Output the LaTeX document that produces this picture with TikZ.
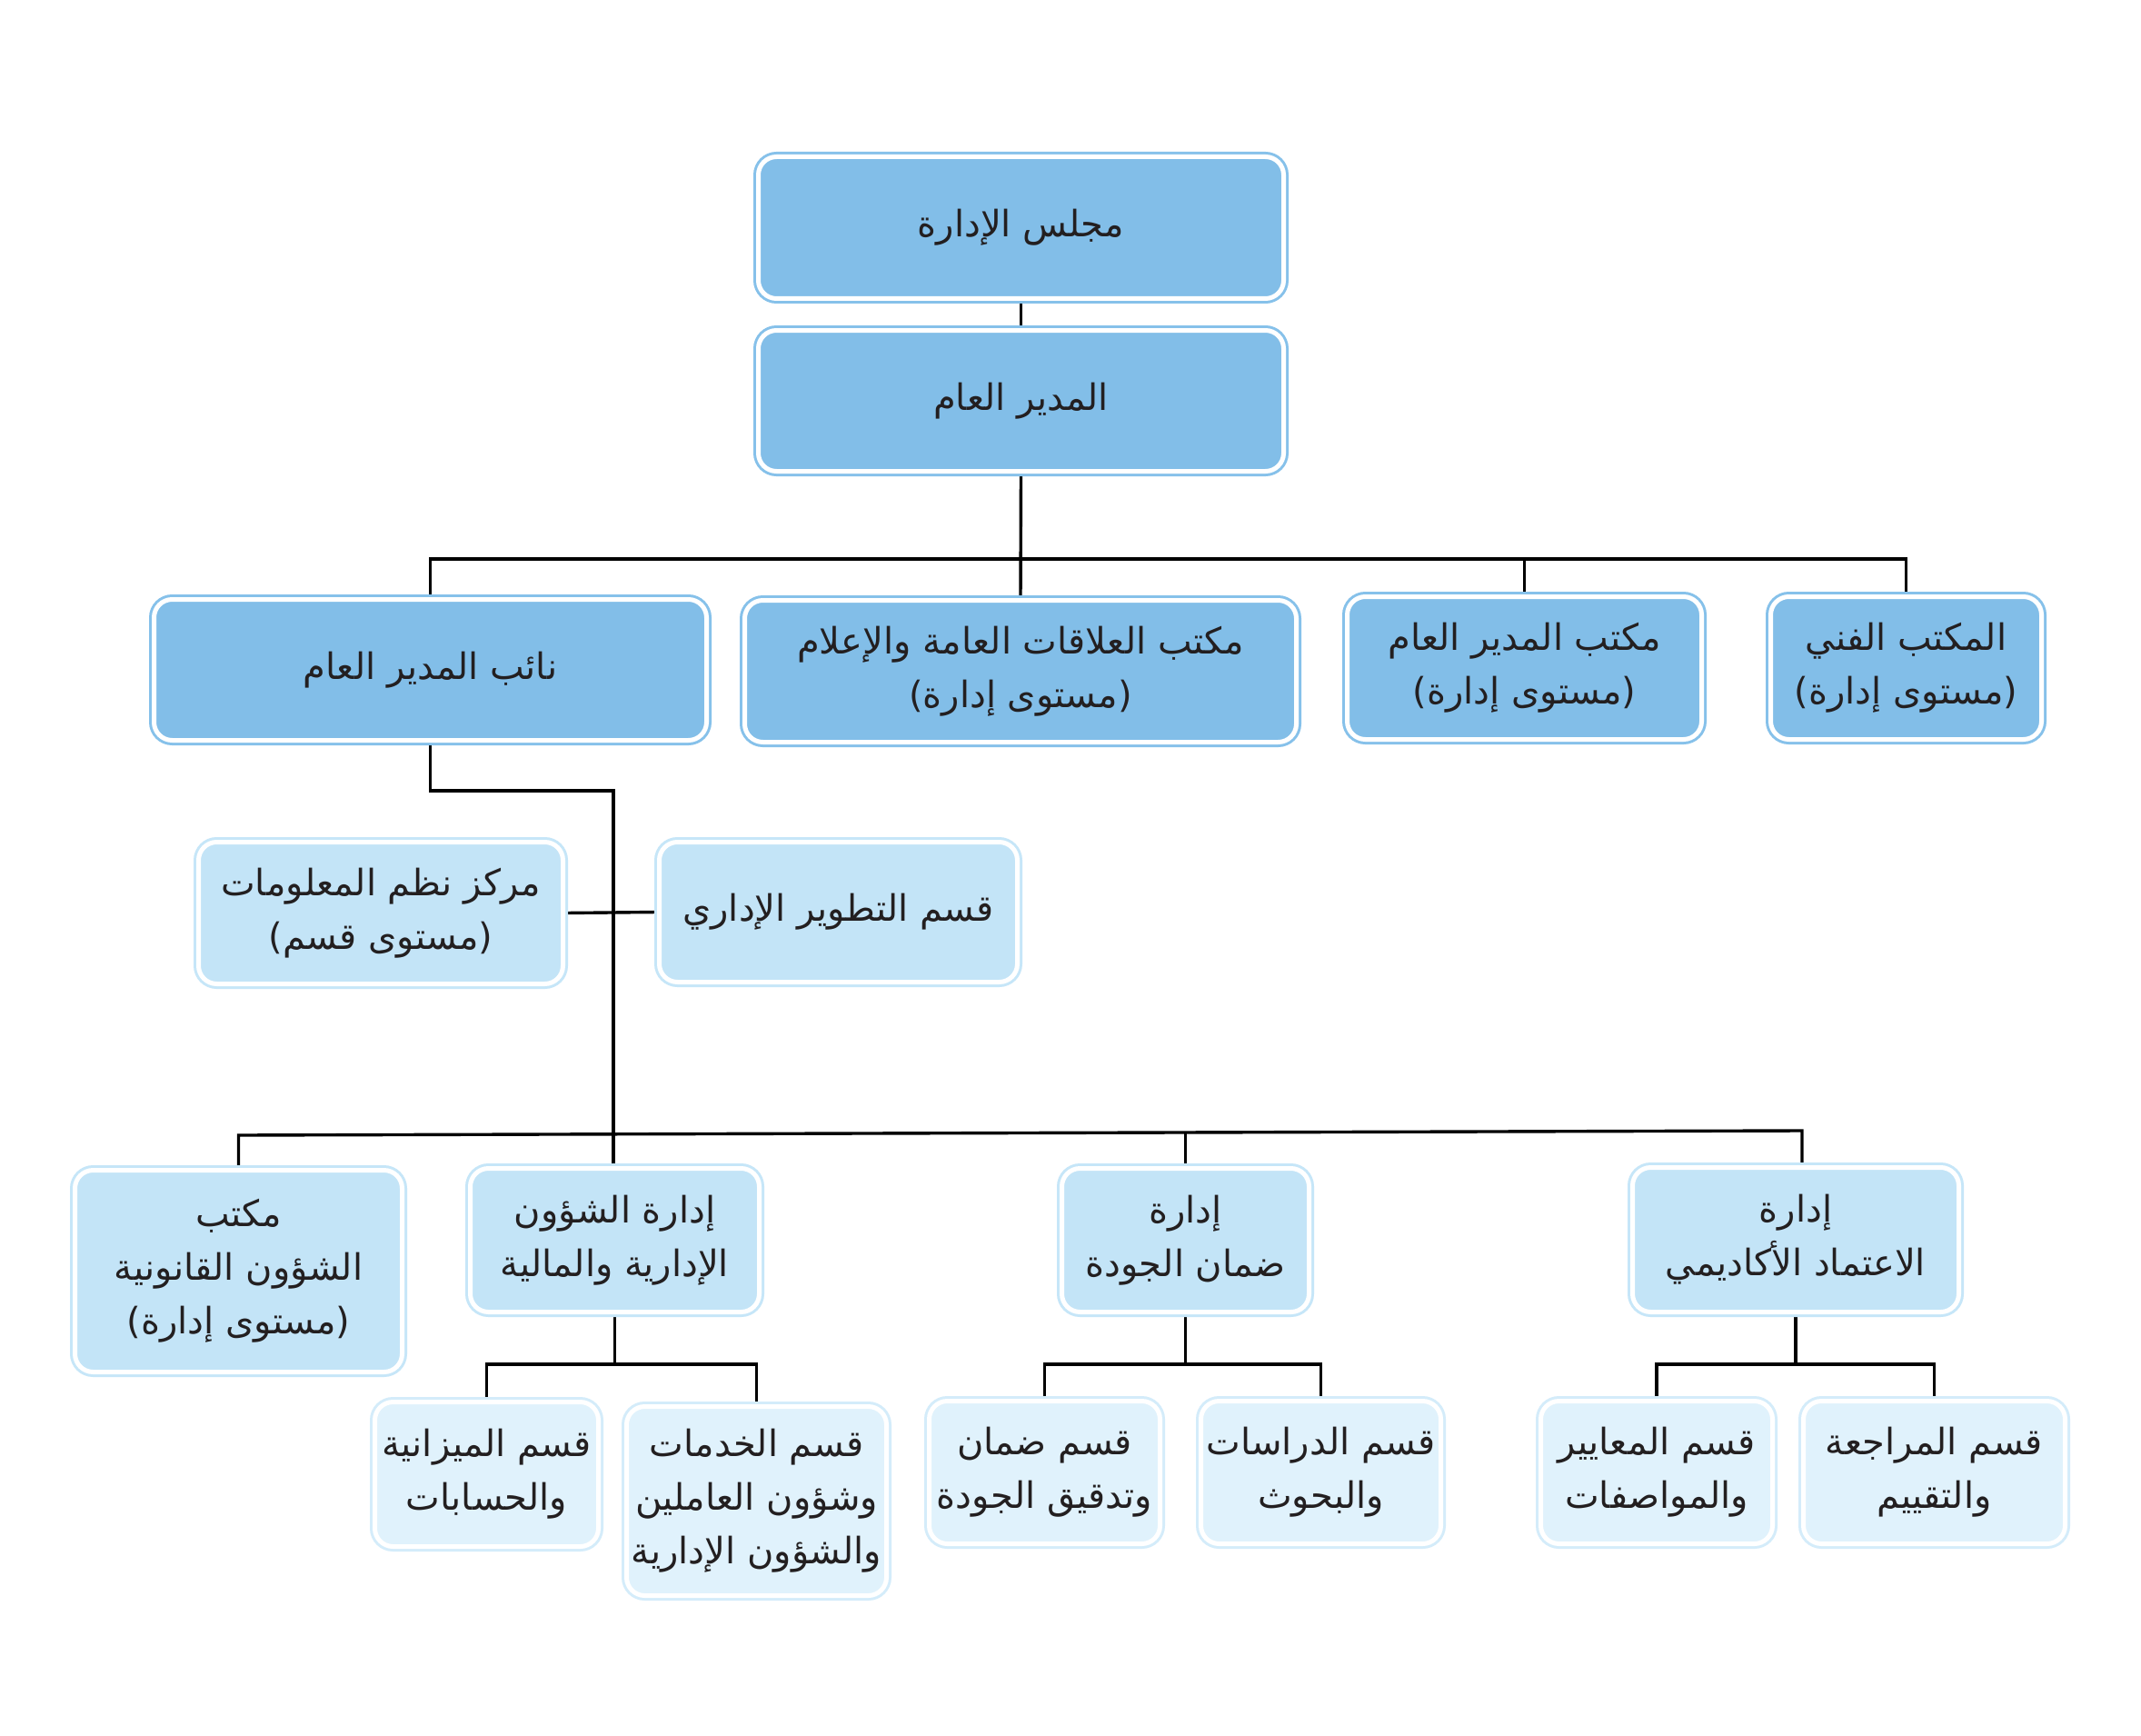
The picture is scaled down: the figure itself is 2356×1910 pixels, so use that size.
\documentclass[tikz,border=0pt]{standalone}
\usepackage{fontspec}
\usetikzlibrary{backgrounds}
\newfontfamily\arabicfont[Script=Arabic]{DejaVu Sans}
\TeXXeTstate=1
\definecolor{fillA}{HTML}{82BEE8}
\definecolor{bordA}{HTML}{86C1EA}
\definecolor{fillB}{HTML}{C3E4F7}
\definecolor{bordB}{HTML}{C6E6F8}
\definecolor{fillC}{HTML}{E0F2FC}
\definecolor{bordC}{HTML}{D4ECFA}
\definecolor{txtc}{HTML}{231F20}
\newcommand\AR[1]{\beginR #1\endR}
\newcommand\OBox[7]{\node[#1, minimum width={(#4-#3-11)*0.5pt}, minimum height={(#6-#5-11)*0.5pt}] (#2) at ({(#3+#4)/2},{(#5+#6)/2}) {#7};}
\tikzset{
  basebox/.style={rounded corners=10pt, inner sep=0pt, align=center, text=txtc,
    font=\arabicfont\fontsize{20}{29.5}\selectfont, draw=white, line width=2.5pt},
  boxA/.style={basebox, fill=fillA, preaction={draw=bordA, line width=5.5pt}},
  boxB/.style={basebox, fill=fillB, preaction={draw=bordB, line width=5.5pt}},
  boxC/.style={basebox, fill=fillC, preaction={draw=bordC, line width=5.5pt}},
  conn/.style={draw=black, line width=1.7pt}
}
\begin{document}
\begin{tikzpicture}[x=0.5pt, y=-0.5pt]
\useasboundingbox (0,0) rectangle (2356,1910);
% row 1-2
\OBox{boxA}{b1}{829}{1418}{167}{334}{\AR{مجلس الإدارة}}
\OBox{boxA}{b2}{829}{1418}{358}{524}{\AR{المدير العام}}
% row 2
\OBox{boxA}{r2a}{164}{783}{654}{820}{\AR{نائب المدير العام}}
\OBox{boxA}{r2b}{814}{1432}{655}{822}{\AR{مكتب العلاقات العامة والإعلام}\\\AR{(مستوى إدارة)}}
\OBox{boxA}{r2c}{1477}{1878}{651}{819}{\AR{مكتب المدير العام}\\\AR{(مستوى إدارة)}}
\OBox{boxA}{r2d}{1943}{2252}{651}{819}{\AR{المكتب الفني}\\\AR{(مستوى إدارة)}}
% side boxes
\OBox{boxB}{info}{213}{625}{921}{1088}{\AR{مركز نظم المعلومات}\\\AR{(مستوى قسم)}}
\OBox{boxB}{dev}{720}{1125}{921}{1086}{\AR{قسم التطوير الإداري}}
% row 4
\OBox{boxB}{legal}{77}{448}{1282}{1515}{\AR{مكتب}\\\AR{الشؤون القانونية}\\\AR{(مستوى إدارة)}}
\OBox{boxB}{adm}{512}{841}{1280}{1449}{\AR{إدارة الشؤون}\\\AR{الإدارية والمالية}}
\OBox{boxB}{qual}{1163}{1446}{1280}{1449}{\AR{إدارة}\\\AR{ضمان الجودة}}
\OBox{boxB}{accr}{1791}{2161}{1279}{1449}{\AR{إدارة}\\\AR{الاعتماد الأكاديمي}}
% row 5
\OBox{boxC}{bud}{407}{664}{1537}{1707}{\AR{قسم الميزانية}\\\AR{والحسابات}}
\OBox{boxC}{svc}{684}{981}{1542}{1761}{\AR{قسم الخدمات}\\\AR{وشؤون العاملين}\\\AR{والشؤون الإدارية}}
\OBox{boxC}{audit}{1017}{1282}{1536}{1704}{\AR{قسم ضمان}\\\AR{وتدقيق الجودة}}
\OBox{boxC}{res}{1316}{1591}{1536}{1704}{\AR{قسم الدراسات}\\\AR{والبحوث}}
\OBox{boxC}{std}{1690}{1956}{1536}{1704}{\AR{قسم المعايير}\\\AR{والمواصفات}}
\OBox{boxC}{rev}{1979}{2278}{1536}{1704}{\AR{قسم المراجعة}\\\AR{والتقييم}}
\coordinate (bar1) at (0,615);
\coordinate (k1) at (675,870);
\coordinate (bar2L) at (0,1249);
\coordinate (bar2M) at (0,1246);
\coordinate (bar2R) at (0,1244);
\coordinate (bar3) at (0,1501);
\coordinate (accrtop) at ([xshift=3.5pt]accr.north);
\begin{scope}[on background layer]
\fill[white] (0,0) rectangle (2356,1910);
\draw[conn] (b1.south) -- (b2.north);
\draw[conn] (b2.south) -- (r2b.north);
\draw[conn] (r2a.north) -- (r2a.north |- bar1) -- (r2d.north |- bar1) -- (r2d.north);
\draw[conn] (r2c.north) -- (r2c.north |- bar1);
\draw[conn] (r2a.south) -- (r2a.south |- k1) -- (k1) -- (adm.north -| k1);
\draw[conn] (info.east) -- (dev.west);
\draw[conn] (legal.north) -- (legal.north |- bar2L) -- (accrtop |- bar2R) -- (accrtop);
\draw[conn] (qual.north) -- (qual.north |- bar2M);
\draw[conn] (adm.south) -- (adm.south |- bar3);
\draw[conn] (bud.north) -- (bud.north |- bar3) -- (svc.north |- bar3) -- (svc.north);
\draw[conn] (qual.south) -- (qual.south |- bar3);
\draw[conn] (audit.north) -- (audit.north |- bar3) -- (res.north |- bar3) -- (res.north);
\draw[conn] (accr.south) -- (accr.south |- bar3);
\draw[conn] (std.north) -- (std.north |- bar3) -- (rev.north |- bar3) -- (rev.north);
\end{scope}
\end{tikzpicture}
\end{document}
